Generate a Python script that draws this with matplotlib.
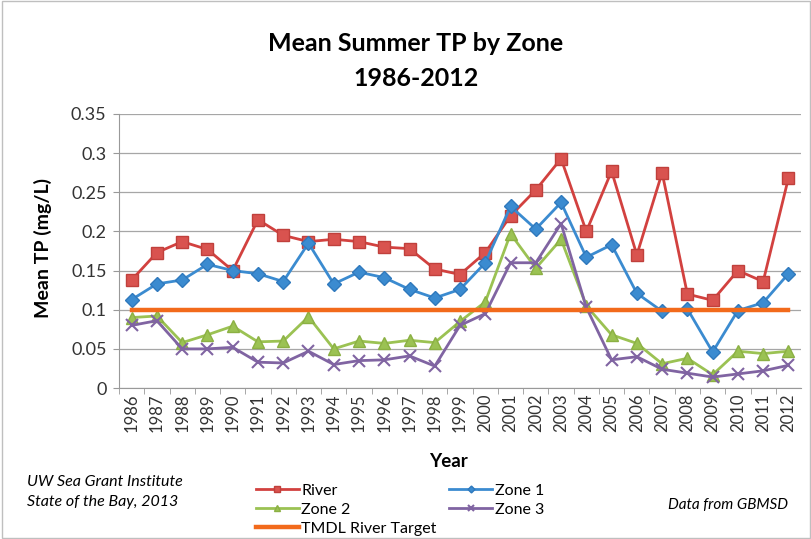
import matplotlib
matplotlib.use("Agg")
import matplotlib.pyplot as plt
from matplotlib.patches import Rectangle

plt.rcParams['font.family'] = ['Lato', 'DejaVu Sans']

years = list(range(1986, 2013))
river = [0.138, 0.173, 0.187, 0.177, 0.150, 0.215, 0.195, 0.187, 0.190, 0.187,
         0.180, 0.178, 0.152, 0.145, 0.173, 0.220, 0.253, 0.293, 0.200, 0.277,
         0.170, 0.275, 0.120, 0.112, 0.150, 0.136, 0.268]
zone1 = [0.113, 0.133, 0.138, 0.158, 0.150, 0.146, 0.136, 0.185, 0.133, 0.148,
         0.141, 0.126, 0.115, 0.126, 0.160, 0.232, 0.203, 0.237, 0.167, 0.183,
         0.121, 0.098, 0.101, 0.046, 0.099, 0.109, 0.146]
zone2 = [0.090, 0.092, 0.058, 0.068, 0.079, 0.059, 0.060, 0.091, 0.050, 0.060,
         0.057, 0.061, 0.058, 0.085, 0.110, 0.197, 0.153, 0.190, 0.105, 0.068,
         0.057, 0.031, 0.038, 0.017, 0.047, 0.044, 0.047]
zone3 = [0.080, 0.086, 0.050, 0.050, 0.052, 0.033, 0.032, 0.047, 0.030, 0.035,
         0.036, 0.041, 0.028, 0.080, 0.095, 0.160, 0.160, 0.210, 0.103, 0.036,
         0.040, 0.024, 0.019, 0.014, 0.018, 0.022, 0.029]
target = [0.1] * len(years)

fig = plt.figure(figsize=(8.12, 5.39), dpi=100)
fig.patches.append(Rectangle((0.002, 0.002), 0.996, 0.996, transform=fig.transFigure,
                             fill=False, edgecolor='#bfbfbf', lw=1))
ax = fig.add_axes([0.1466, 0.2801, 0.9865 - 0.1466, 0.7885 - 0.2801])

l_river, = ax.plot(years, river, color='#d2413f', lw=2, marker='s', ms=9,
                   markerfacecolor='#d9534f', markeredgecolor='#c0403c')
l_z1, = ax.plot(years, zone1, color='#3b8bd0', lw=2, marker='D', ms=7,
                markerfacecolor='#3b8bd0', markeredgecolor='#2f79bd')
l_z2, = ax.plot(years, zone2, color='#9bc253', lw=2, marker='^', ms=9,
                markerfacecolor='#9bc253', markeredgecolor='#8bb043')
l_z3, = ax.plot(years, zone3, color='#8064a2', lw=2, marker='x', ms=8, mew=1.5)
l_t, = ax.plot(years, target, color='#f26a1b', lw=3.2)

ax.set_xlim(1985.5, 2012.5)
ax.set_ylim(0, 0.35)
ax.set_yticks([0, 0.05, 0.1, 0.15, 0.2, 0.25, 0.3, 0.35])
ax.set_yticklabels(['0', '0.05', '0.1', '0.15', '0.2', '0.25', '0.3', '0.35'],
                   fontsize=13, color='#333333')
ax.set_xticks(years)
ax.set_xticklabels([str(y) for y in years], rotation=90, fontsize=12, color='#333333')
ax.set_xticks([y + 0.5 for y in years[:-1]] + [1985.5], minor=True)
ax.tick_params(axis='x', which='major', length=0, pad=4)
ax.tick_params(axis='x', which='minor', length=4, color='#999999')
ax.tick_params(axis='y', length=4, color='#999999', pad=5)
ax.grid(axis='y', color='#a6a6a6', lw=0.9)
ax.set_axisbelow(True)
for side in ['top', 'right']:
    ax.spines[side].set_visible(False)
ax.spines['left'].set_color('#999999')
ax.spines['bottom'].set_color('#999999')

ax.set_ylabel('Mean TP (mg/L)', fontsize=14, fontweight='bold')
ax.yaxis.set_label_coords(-0.098, 0.51)
fig.text(0.552, 0.143, 'Year', fontsize=13.5, fontweight='bold', ha='center', va='center')
fig.text(0.512, 0.919, 'Mean Summer TP by Zone', fontsize=18, fontweight='bold', ha='center', va='center')
fig.text(0.512, 0.855, '1986-2012', fontsize=18, fontweight='bold', ha='center', va='center')

fig.legend([l_river, l_z2, l_t, l_z1, l_z3],
           ['River', 'Zone 2', 'TMDL River Target', 'Zone 1', 'Zone 3'],
           ncol=2, loc='upper left', bbox_to_anchor=(0.305, 0.118), frameon=False,
           fontsize=11.5, handlelength=2.7, labelspacing=0.3, columnspacing=0.8,
           handletextpad=0.15, borderpad=0, markerscale=0.5)

fig.text(0.033, 0.087, 'UW Sea Grant Institute\nState of the Bay, 2013', fontsize=11.5,
         style='italic', ha='left', va='center', linespacing=1.5)
fig.text(0.823, 0.063, 'Data from GBMSD', fontsize=11, style='italic', ha='left', va='center')

fig.savefig('out.png', dpi=100)
